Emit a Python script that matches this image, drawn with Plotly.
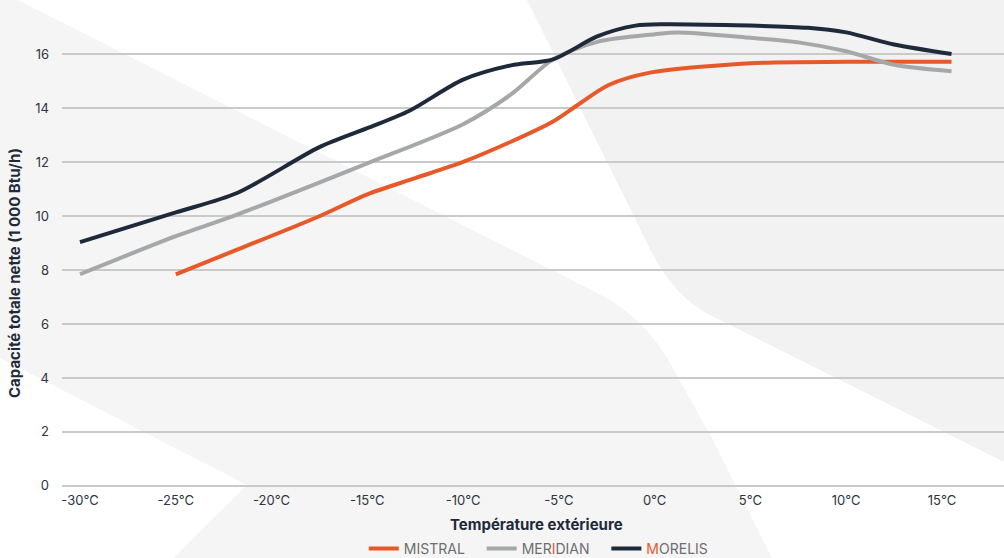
import plotly.graph_objects as go

# ---- data ----
mistral_t = [-25, -21.8, -17.5, -15, -12.5, -10, -7.5, -5.3, -4, -2.4, -0.3, 5, 10, 15.5]
mistral_v = [7.84, 8.75, 9.99, 10.8, 11.4, 12.0, 12.75, 13.5, 14.12, 14.85, 15.3, 15.66, 15.71, 15.71]

meridian_t = [-30, -25, -21.8, -15, -10, -7.5, -5.3, -3, 0, 1.2, 5, 7.5, 10, 12.5, 15.5]
meridian_v = [7.84, 9.25, 10.05, 11.95, 13.4, 14.5, 15.8, 16.45, 16.73, 16.8, 16.6, 16.43, 16.1, 15.6, 15.36]

morelis_t = [-30, -25, -21.8, -17.5, -14.9, -12.8, -10, -7.5, -5.3, -3, -1, 0.5, 8, 10, 12.5, 15.5]
morelis_v = [9.03, 10.13, 10.85, 12.55, 13.28, 13.9, 15.05, 15.58, 15.8, 16.65, 17.05, 17.1, 16.97, 16.8, 16.35, 16.0]

x_tickvals = [-30, -25, -20, -15, -10, -5, 0, 5, 10, 15]
x_ticktext = ["-30°C", "-25°C", "-20°C", "-15°C", "-10°C", "-5°C", "0°C", "5°C", "10°C", "15°C"]
y_tickvals = [0, 2, 4, 6, 8, 10, 12, 14, 16]

ORANGE = "#e8592a"
GREY = "#a6a7a8"
NAVY = "#1e2a3a"

W, H = 1004, 558
ML, MR, MT, MB = 62, 0, 0, 71
PW, PH = W - ML - MR, H - MT - MB


def p(x, y):
    return f"{(x - ML) / PW:.5f},{(H - MB - y) / PH:.5f}"


left_bg = ("M " + p(-10, -15) + " L " + p(-2, -10) + " L " + p(600, 294.4)
           + " Q " + p(644, 317) + " " + p(670, 363)
           + " L " + p(713, 440) + " L " + p(772, 558) + " L " + p(792, 600)
           + " L " + p(131, 600) + " L " + p(247, 485) + " L " + p(0, 358)
           + " L " + p(-10, 353) + " Z")
right_bg = ("M " + p(522, -10) + " L " + p(650.5, 250)
            + " Q " + p(674, 297) + " " + p(710, 315)
            + " L " + p(1010, 465) + " L " + p(1010, -10) + " Z")

fig = go.Figure()
for name, t, v, c in [
    ("MISTRAL", mistral_t, mistral_v, ORANGE),
    ("MER<span style='color:#e8592a'>I</span>DIAN", meridian_t, meridian_v, GREY),
    ("<span style='color:#e8592a'>M</span>ORELIS", morelis_t, morelis_v, NAVY),
]:
    fig.add_trace(go.Scatter(x=t, y=v, name=name + "   ", mode="lines",
                             line=dict(color=c, width=4, shape="spline", smoothing=0.8)))

fig.update_layout(
    width=W, height=H,
    margin=dict(l=ML, r=MR, t=MT, b=MB, autoexpand=False),
    paper_bgcolor="white", plot_bgcolor="rgba(0,0,0,0)",
    font=dict(family="Inter, Lato, sans-serif", color="#2b3441", size=13),
    shapes=[
        dict(type="path", path=left_bg, xref="paper", yref="paper",
             fillcolor="#f5f5f5", line=dict(width=0), layer="below"),
        dict(type="path", path=right_bg, xref="paper", yref="paper",
             fillcolor="#f2f2f2", line=dict(width=0), layer="below"),
    ],
    xaxis=dict(range=[-30.94, 18.24], tickvals=x_tickvals, ticktext=x_ticktext,
               showgrid=False, zeroline=False, showline=False,
               ticklabelstandoff=4, tickfont=dict(size=13, color="#2b3441")),
    yaxis=dict(range=[-0.04, 18.0], tickvals=y_tickvals, showgrid=True,
               gridcolor="#cacaca", gridwidth=1.5, zeroline=False, showline=False,
               ticklabelstandoff=12, tickfont=dict(size=13, color="#2b3441")),
    showlegend=True,
    legend=dict(orientation="h", x=0.512, xanchor="center", y=-0.127, yanchor="middle",
                font=dict(size=14, color="#6d6e70"), bgcolor="rgba(0,0,0,0)",
                itemwidth=30, tracegroupgap=0),
    annotations=[
        dict(text="<b>Capacité totale nette (1 000 Btu/h)</b>", textangle=-90,
             xref="paper", yref="paper", x=(14 - ML) / PW, y=(H - MB - 273) / PH,
             showarrow=False, font=dict(size=15, color="#1e2a3a"),
             xanchor="center", yanchor="middle"),
        dict(text="<b>Température extérieure</b>",
             xref="paper", yref="paper", x=(536 - ML) / PW, y=(H - MB - 524) / PH,
             showarrow=False, font=dict(size=15, color="#1e2a3a"),
             xanchor="center", yanchor="middle"),
    ],
)

fig.write_html("out.html", config={"displayModeBar": False},
               post_script="document.body.style.margin='0';document.body.style.overflow='hidden';")
